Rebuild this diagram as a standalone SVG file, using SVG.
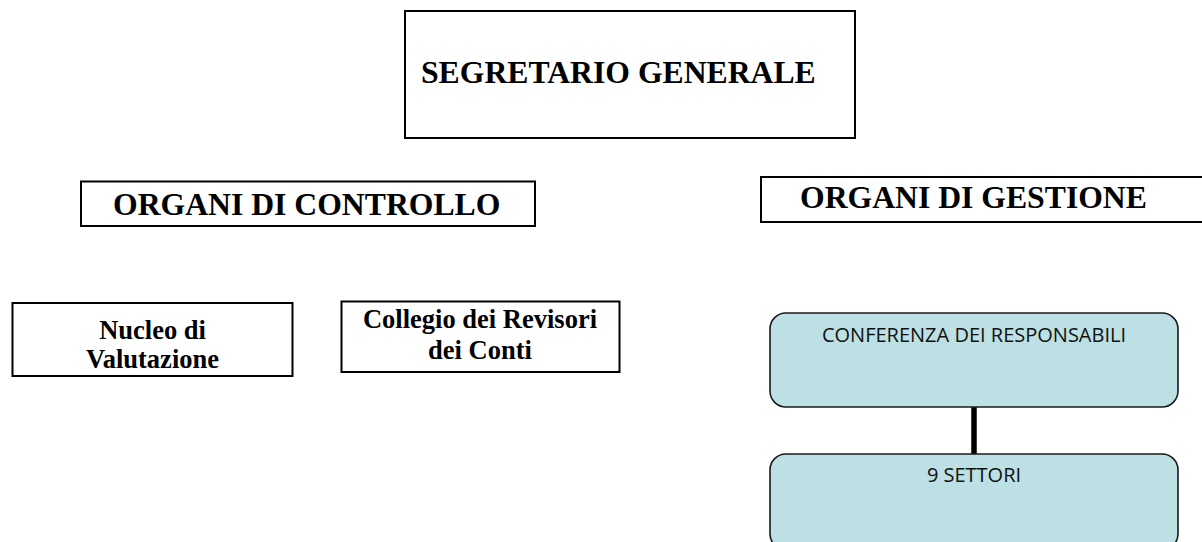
<svg xmlns="http://www.w3.org/2000/svg" width="1202" height="542" viewBox="0 0 1202 542">
<style>
.box{fill:#ffffff;stroke:#000000;stroke-width:2}
.rbox{fill:#bce0e3;stroke:#1a1a1a;stroke-width:1.6}
.t{font-family:"Liberation Serif","Times New Roman",serif;font-weight:bold;fill:#000000}
.big{font-size:31.7px}
.small{font-size:26.5px}
.c{font-family:"Open Sans","Noto Sans",sans-serif;font-size:20px;fill:#111111}
.conn{stroke:#000000;stroke-width:5.5;fill:none}
</style>
<rect width="1202" height="542" fill="#ffffff"/>
<g id="segretario">
<rect class="box" x="405" y="11" width="450" height="127"/>
<text class="t big" x="421" y="83">SEGRETARIO GENERALE</text>
</g>
<g id="organi-controllo">
<rect class="box" x="81" y="181.5" width="454" height="44.5"/>
<text class="t big" x="113" y="215">ORGANI DI CONTROLLO</text>
</g>
<g id="organi-gestione">
<rect class="box" x="761" y="177" width="460" height="45"/>
<text class="t big" x="800" y="208">ORGANI DI GESTIONE</text>
</g>
<g id="nucleo">
<rect class="box" x="12.5" y="303" width="280" height="73"/>
<text class="t small" x="152.5" y="339" text-anchor="middle">Nucleo di</text>
<text class="t small" x="152.5" y="368" text-anchor="middle">Valutazione</text>
</g>
<g id="collegio">
<rect class="box" x="341.5" y="301.5" width="278" height="70.5"/>
<text class="t small" x="480" y="328" text-anchor="middle">Collegio dei Revisori</text>
<text class="t small" x="480" y="359" text-anchor="middle">dei Conti</text>
</g>
<g id="connectors">
<line class="conn" x1="974" y1="407" x2="974" y2="454"/>
</g>
<g id="conferenza">
<rect class="rbox" x="770" y="313" width="408" height="94" rx="16" ry="16"/>
<text class="c" x="974" y="342" text-anchor="middle">CONFERENZA DEI RESPONSABILI</text>
</g>
<g id="settori">
<rect class="rbox" x="770" y="454" width="408" height="96" rx="16" ry="16"/>
<text class="c" x="974" y="482" text-anchor="middle">9 SETTORI</text>
</g>
</svg>
